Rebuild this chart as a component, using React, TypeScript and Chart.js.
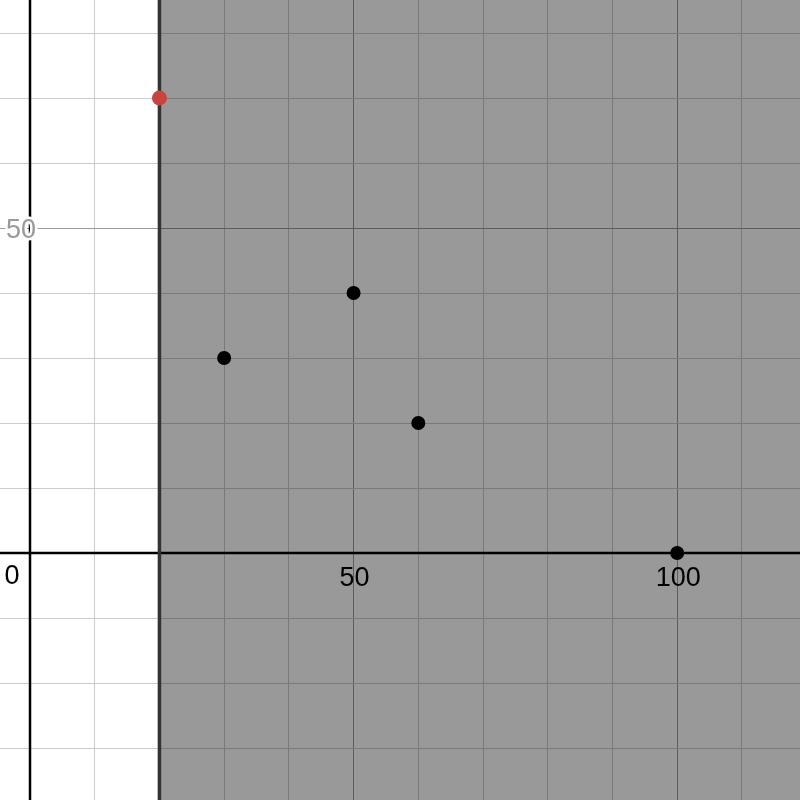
import React, { useEffect, useRef } from "react";
import { Chart, registerables } from "chart.js";

Chart.register(...registerables);

// Data
const blackX = [30, 50, 60, 100];
const blackY = [30, 40, 20, 0];
const redX = [20];
const redY = [70];
const shadeFromX = 20; // region x >= 20
const xTickLabels = [0, 50, 100];
const yTickLabels = [50];
const gridStep = 10;
const majorStep = 50;

const X_MIN = -4.637;
const X_MAX = 118.98;
const Y_MIN = -38.0;
const Y_MAX = 85.08;

const snap = (p: number) => Math.round(p - 0.5) + 0.5;

const desmosPlugin = {
  id: "desmosGrid",
  beforeDatasetsDraw(chart: any) {
    const { ctx, chartArea, scales } = chart;
    const xs = scales.x;
    const ys = scales.y;
    const { left, right, top, bottom } = chartArea;
    ctx.save();
    ctx.fillStyle = "#ffffff";
    ctx.fillRect(left, top, right - left, bottom - top);

    // grid lines
    const gx0 = Math.ceil(X_MIN / gridStep) * gridStep;
    for (let v = gx0; v <= X_MAX; v += gridStep) {
      if (v === 0) continue;
      const p = snap(xs.getPixelForValue(v));
      ctx.strokeStyle = v % majorStep === 0 ? "#999999" : "#cccccc";
      ctx.lineWidth = 1;
      ctx.beginPath();
      ctx.moveTo(p, top);
      ctx.lineTo(p, bottom);
      ctx.stroke();
    }
    const gy0 = Math.ceil(Y_MIN / gridStep) * gridStep;
    for (let v = gy0; v <= Y_MAX; v += gridStep) {
      if (v === 0) continue;
      const p = snap(ys.getPixelForValue(v));
      ctx.strokeStyle = v % majorStep === 0 ? "#999999" : "#cccccc";
      ctx.lineWidth = 1;
      ctx.beginPath();
      ctx.moveTo(left, p);
      ctx.lineTo(right, p);
      ctx.stroke();
    }

    ctx.font = "27px 'Liberation Sans', Arial, sans-serif";
    const x0 = xs.getPixelForValue(0);
    const y0 = ys.getPixelForValue(0);

    // shade
    const sx = xs.getPixelForValue(shadeFromX);
    ctx.fillStyle = "rgba(0,0,0,0.4)";
    ctx.fillRect(sx, top, right - sx, bottom - top);

    // axes
    ctx.strokeStyle = "#000000";
    ctx.lineWidth = 2.5;
    ctx.beginPath();
    ctx.moveTo(x0, top);
    ctx.lineTo(x0, bottom);
    ctx.stroke();
    ctx.beginPath();
    ctx.moveTo(left, y0);
    ctx.lineTo(right, y0);
    ctx.stroke();

    // boundary
    ctx.strokeStyle = "#333333";
    ctx.lineWidth = 3.5;
    ctx.beginPath();
    ctx.moveTo(sx, top);
    ctx.lineTo(sx, bottom);
    ctx.stroke();

    // y labels
    for (const v of yTickLabels) {
      const p = ys.getPixelForValue(v);
      ctx.textAlign = "right";
      ctx.textBaseline = "middle";
      ctx.lineWidth = 5;
      ctx.strokeStyle = "#ffffff";
      ctx.lineJoin = "round";
      ctx.strokeText(String(v), x0 + 6, p + 3);
      ctx.fillStyle = "#999999";
      ctx.fillText(String(v), x0 + 6, p + 3);
    }
    // x labels
    for (const v of xTickLabels) {
      const p = xs.getPixelForValue(v);
      ctx.textBaseline = "alphabetic";
      ctx.fillStyle = "#000000";
      ctx.textAlign = "center";
      if (v === 0) {
        ctx.fillText("0", p - 18, y0 + 31);
      } else {
        ctx.fillText(String(v), p + 1, y0 + 33);
      }
    }
    ctx.restore();
  },
};

export default function App() {
  const ref = useRef<HTMLCanvasElement | null>(null);
  useEffect(() => {
    document.body.style.margin = "0";
    if (!ref.current) return;
    const chart = new Chart(ref.current, {
      type: "scatter",
      data: {
        datasets: [
          {
            label: "points",
            data: blackX.map((x, i) => ({ x, y: blackY[i] })),
            backgroundColor: "#000000",
            borderColor: "#000000",
            pointRadius: 7,
            borderWidth: 0,
          },
          {
            label: "red",
            data: redX.map((x, i) => ({ x, y: redY[i] })),
            backgroundColor: "#c74440",
            borderColor: "#c74440",
            pointRadius: 7.5,
            borderWidth: 0,
          },
        ],
      },
      options: {
        animation: false,
        responsive: false,
        layout: { padding: 0, autoPadding: false },
        plugins: { legend: { display: false }, tooltip: { enabled: false } },
        scales: {
          x: { type: "linear", min: X_MIN, max: X_MAX, display: false },
          y: { type: "linear", min: Y_MIN, max: Y_MAX, display: false },
        },
      },
      plugins: [desmosPlugin],
    });
    return () => chart.destroy();
  }, []);
  return (
    <div style={{ width: 800, height: 800 }}>
      <canvas ref={ref} width={800} height={800} style={{ display: "block" }} />
    </div>
  );
}
